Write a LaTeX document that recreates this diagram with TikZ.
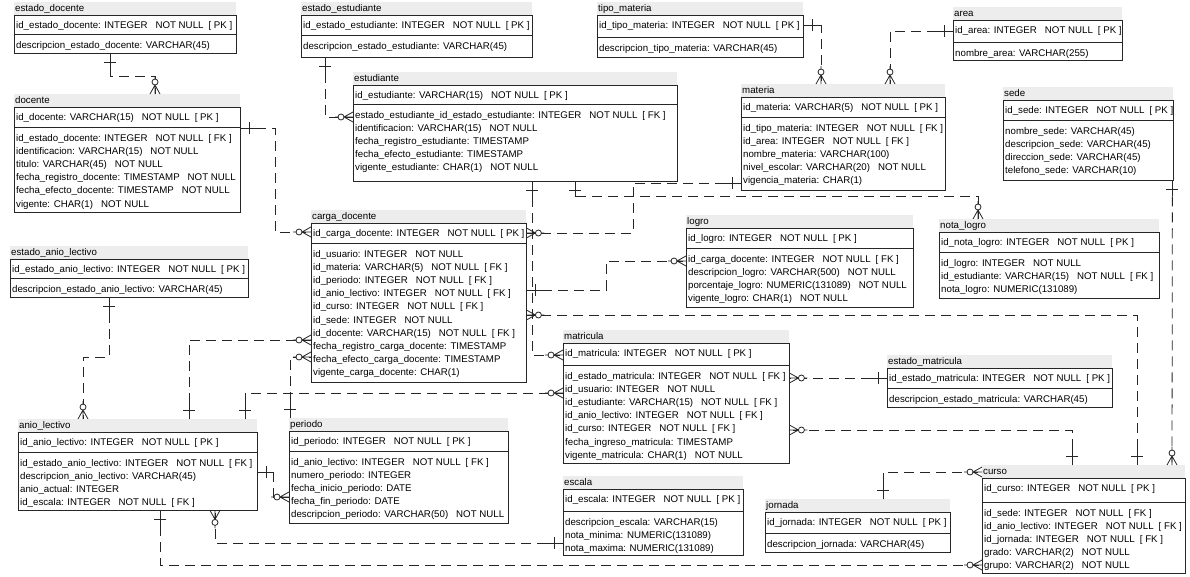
\documentclass[tikz,border=0pt]{standalone}
\usepackage{fontspec}
\setmainfont{Liberation Sans}
\usetikzlibrary{calc}
\newcommand{\gA}{\hspace{8pt}}
\newcommand{\gB}{\hspace{5pt}}
\tikzset{
 tbltext/.style={font=\fontsize{9.7}{12}\selectfont, inner sep=0pt, text=black},
 hdrfill/.style={fill=black!7},
 tblbox/.style={draw=none, inner sep=0pt},
 tblline/.style={draw=black!85, line width=0.8pt},
 rel/.style={draw=black!85, line width=0.8pt, dash pattern=on 10pt off 6pt},
 mk/.style={draw=black!85, line width=0.8pt, solid},
}
% name, L, T, R, D, B, title, pk, attributes
\newcommand{\ertbl}[9]{%
 \fill[hdrfill] (#2,#3-13) rectangle (#4,#3);
 \node[tbltext, anchor=base west] at (#2+1,#3-3.5) {#7};
 \node[tblbox, anchor=north west, minimum width={(#4-#2)*1pt}, minimum height={(#6-#3+13)*1pt}] (#1) at (#2,#3-13) {};
 \draw[tblline] (#2,#3) rectangle (#4,#6);
 \draw[tblline] (#2,#5) -- (#4,#5);
 \node[tbltext, anchor=base west] at (#2+2,#3+13.5) {#8};
 \foreach \rowtxt [count=\ri] in {#9} {\node[tbltext, anchor=base west] at (#2+2,#5+14+\ri*13.2-13.2) {\rowtxt};}
}
\newcommand{\mone}[2]{\draw[mk,shift={#1},rotate=#2] (0,0) -- (16,0) (9,-6) -- (9,6);}
\newcommand{\mzm}[2]{\draw[mk,shift={#1},rotate=#2] (0,0) -- (18,0) (9,0) -- (0,-5) (9,0) -- (0,5);
 \filldraw[mk,fill=white,shift={#1},rotate=#2] (12,0) circle[radius=3pt];}
\begin{document}
\begin{tikzpicture}[x=1pt,y=-1pt]
\useasboundingbox[fill=white] (0,0) rectangle (1190,576);

\ertbl{estadodocente}{14}{15}{236}{34}{53}{estado\_docente}{id\_estado\_docente: INTEGER\gA NOT NULL\gB [ PK ]}{descripcion\_estado\_docente: VARCHAR(45)}
\ertbl{docente}{14}{107}{240}{127}{212}{docente}{id\_docente: VARCHAR(15)\gA NOT NULL\gB [ PK ]}{id\_estado\_docente: INTEGER\gA NOT NULL\gB [ FK ], identificacion: VARCHAR(15)\gA NOT NULL, titulo: VARCHAR(45)\gA NOT NULL, fecha\_registro\_docente: TIMESTAMP\gA NOT NULL, fecha\_efecto\_docente: TIMESTAMP\gA NOT NULL, vigente: CHAR(1)\gA NOT NULL}
\ertbl{estadoestudiante}{301}{15}{532}{35}{57}{estado\_estudiante}{id\_estado\_estudiante: INTEGER\gA NOT NULL\gB [ PK ]}{descripcion\_estado\_estudiante: VARCHAR(45)}
\ertbl{estudiante}{353}{85}{677}{104}{181}{estudiante}{id\_estudiante: VARCHAR(15)\gA NOT NULL\gB [ PK ]}{estado\_estudiante\_id\_estado\_estudiante: INTEGER\gA NOT NULL\gB [ FK ], identificacion: VARCHAR(15)\gA NOT NULL, fecha\_registro\_estudiante: TIMESTAMP, fecha\_efecto\_estudiante: TIMESTAMP, vigente\_estudiante: CHAR(1)\gA NOT NULL}
\ertbl{tipomateria}{597}{15}{803}{37}{57}{tipo\_materia}{id\_tipo\_materia: INTEGER\gA NOT NULL\gB [ PK ]}{descripcion\_tipo\_materia: VARCHAR(45)}
\ertbl{materia}{741}{97}{945}{117}{190}{materia}{id\_materia: VARCHAR(5)\gA NOT NULL\gB [ PK ]}{id\_tipo\_materia: INTEGER\gA NOT NULL\gB [ FK ], id\_area: INTEGER\gA NOT NULL\gB [ FK ], nombre\_materia: VARCHAR(100), nivel\_escolar: VARCHAR(20)\gA NOT NULL, vigencia\_materia: CHAR(1)}
\ertbl{area}{953}{20}{1122}{42}{60}{area}{id\_area: INTEGER\gA NOT NULL\gB [ PK ]}{nombre\_area: VARCHAR(255)}
\ertbl{sede}{1003}{100}{1173}{120}{180}{sede}{id\_sede: INTEGER\gA NOT NULL\gB [ PK ]}{nombre\_sede: VARCHAR(45), descripcion\_sede: VARCHAR(45), direccion\_sede: VARCHAR(45), telefono\_sede: VARCHAR(10)}
\ertbl{estadoanio}{10}{259}{248}{278}{297}{estado\_anio\_lectivo}{id\_estado\_anio\_lectivo: INTEGER\gA NOT NULL\gB [ PK ]}{descripcion\_estado\_anio\_lectivo: VARCHAR(45)}
\ertbl{cargadocente}{311}{223}{526}{243}{382}{carga\_docente}{id\_carga\_docente: INTEGER\gA NOT NULL\gB [ PK ]}{id\_usuario: INTEGER\gA NOT NULL, id\_materia: VARCHAR(5)\gA NOT NULL\gB [ FK ], id\_periodo: INTEGER\gA NOT NULL\gB [ FK ], id\_anio\_lectivo: INTEGER\gA NOT NULL\gB [ FK ], id\_curso: INTEGER\gA NOT NULL\gB [ FK ], id\_sede: INTEGER\gA NOT NULL, id\_docente: VARCHAR(15)\gA NOT NULL\gB [ FK ], fecha\_registro\_carga\_docente: TIMESTAMP, fecha\_efecto\_carga\_docente: TIMESTAMP, vigente\_carga\_docente: CHAR(1)}
\ertbl{logro}{686}{228}{913}{248}{307}{logro}{id\_logro: INTEGER\gA NOT NULL\gB [ PK ]}{id\_carga\_docente: INTEGER\gA NOT NULL\gB [ FK ], descripcion\_logro: VARCHAR(500)\gA NOT NULL, porcentaje\_logro: NUMERIC(131089)\gA NOT NULL, vigente\_logro: CHAR(1)\gA NOT NULL}
\ertbl{notalogro}{939}{232}{1159}{252}{298}{nota\_logro}{id\_nota\_logro: INTEGER\gA NOT NULL\gB [ PK ]}{id\_logro: INTEGER\gA NOT NULL, id\_estudiante: VARCHAR(15)\gA NOT NULL\gB [ FK ], nota\_logro: NUMERIC(131089)}
\ertbl{estadomatricula}{887}{368}{1112}{388}{407}{estado\_matricula}{id\_estado\_matricula: INTEGER\gA NOT NULL\gB [ PK ]}{descripcion\_estado\_matricula: VARCHAR(45)}
\ertbl{matricula}{563}{343}{789}{365}{463}{matricula}{id\_matricula: INTEGER\gA NOT NULL\gB [ PK ]}{id\_estado\_matricula: INTEGER\gA NOT NULL\gB [ FK ], id\_usuario: INTEGER\gA NOT NULL, id\_estudiante: VARCHAR(15)\gA NOT NULL\gB [ FK ], id\_anio\_lectivo: INTEGER\gA NOT NULL\gB [ FK ], id\_curso: INTEGER\gA NOT NULL\gB [ FK ], fecha\_ingreso\_matricula: TIMESTAMP, vigente\_matricula: CHAR(1)\gA NOT NULL}
\ertbl{aniolectivo}{18}{432}{257}{452}{510}{anio\_lectivo}{id\_anio\_lectivo: INTEGER\gA NOT NULL\gB [ PK ]}{id\_estado\_anio\_lectivo: INTEGER\gA NOT NULL\gB [ FK ], descripcion\_anio\_lectivo: VARCHAR(45), anio\_actual: INTEGER, id\_escala: INTEGER\gA NOT NULL\gB [ FK ]}
\ertbl{periodo}{289}{431}{508}{451}{523}{periodo}{id\_periodo: INTEGER\gA NOT NULL\gB [ PK ]}{id\_anio\_lectivo: INTEGER\gA NOT NULL\gB [ FK ], numero\_periodo: INTEGER, fecha\_inicio\_periodo: DATE, fecha\_fin\_periodo: DATE, descripcion\_periodo: VARCHAR(50)\gA NOT NULL}
\ertbl{escala}{563}{489}{743}{511}{555}{escala}{id\_escala: INTEGER\gA NOT NULL\gB [ PK ]}{descripcion\_escala: VARCHAR(15), nota\_minima: NUMERIC(131089), nota\_maxima: NUMERIC(131089)}
\ertbl{jornada}{765}{512}{950}{533}{552}{jornada}{id\_jornada: INTEGER\gA NOT NULL\gB [ PK ]}{descripcion\_jornada: VARCHAR(45)}
\ertbl{curso}{982}{478}{1185}{502}{573}{curso}{id\_curso: INTEGER\gA NOT NULL\gB [ PK ]}{id\_sede: INTEGER\gA NOT NULL\gB [ FK ], id\_anio\_lectivo: INTEGER\gA NOT NULL\gB [ FK ], id\_jornada: INTEGER\gA NOT NULL\gB [ FK ], grado: VARCHAR(2)\gA NOT NULL, grupo: VARCHAR(2)\gA NOT NULL}

% connector end points
\coordinate (As) at ($(estadodocente.south west)+(96,0)$);
\coordinate (Ae) at ($(docente.north west)+(141,0)$);
\coordinate (Bs) at ($(docente.north east)+(0,34)$);
\coordinate (Be) at ($(cargadocente.north west)+(0,22)$);
\coordinate (Cs) at ($(estadoestudiante.south west)+(24,0)$);
\coordinate (Ce) at ($(estudiante.north west)+(0,45)$);
\coordinate (Ds) at ($(tipomateria.north east)+(0,23)$);
\coordinate (De) at ($(materia.north west)+(80,0)$);
\coordinate (Es) at ($(area.north west)+(0,24)$);
\coordinate (Ee) at ($(materia.north west)+(149,0)$);
\coordinate (Fs) at ($(sede.south east)+(-1,0)$);
\coordinate (Fe) at ($(curso.north west)+(190,0)$);
\coordinate (Gs) at ($(materia.north west)+(0,99)$);
\coordinate (Ge) at ($(cargadocente.north east)+(0,23)$);
\coordinate (Hs) at ($(estudiante.south west)+(222,0)$);
\coordinate (He) at ($(notalogro.north west)+(39,0)$);
\coordinate (Is) at ($(estudiante.south west)+(179,0)$);
\coordinate (Ie) at ($(matricula.north west)+(0,25)$);
\coordinate (Js) at ($(cargadocente.north east)+(0,80)$);
\coordinate (Je) at ($(logro.north west)+(0,46)$);
\coordinate (Ks) at ($(curso.north west)+(155,0)$);
\coordinate (Ke) at ($(cargadocente.north east)+(0,105)$);
\coordinate (Ls) at ($(aniolectivo.north west)+(171,0)$);
\coordinate (Le) at ($(cargadocente.north west)+(0,130)$);
\coordinate (Ms) at ($(periodo.north west)+(1,0)$);
\coordinate (Me) at ($(cargadocente.north west)+(0,147)$);
\coordinate (Ns) at ($(aniolectivo.north west)+(227,0)$);
\coordinate (Ne) at ($(matricula.north west)+(0,63)$);
\coordinate (Os) at ($(estadoanio.south west)+(99,0)$);
\coordinate (Oe) at ($(aniolectivo.north west)+(65,0)$);
\coordinate (Ps) at ($(aniolectivo.north east)+(0,53)$);
\coordinate (Pe) at ($(periodo.north west)+(0,79)$);
\coordinate (Qs) at ($(aniolectivo.south west)+(142,0)$);
\coordinate (Qe) at ($(curso.north west)+(0,100)$);
\coordinate (Rs) at ($(escala.north west)+(0,67)$);
\coordinate (Re) at ($(aniolectivo.south west)+(197,0)$);
\coordinate (Ss) at ($(estadomatricula.north west)+(0,23)$);
\coordinate (Se) at ($(matricula.north east)+(0,48)$);
\coordinate (Ts) at ($(curso.north west)+(90,0)$);
\coordinate (Te) at ($(matricula.north east)+(0,100)$);
\coordinate (Us) at ($(jornada.north west)+(118,0)$);
\coordinate (Ue) at ($(curso.north west)+(0,7)$);

% connectors
\draw[rel] (As) -- ++(0,23) -| (Ae);
\draw[rel] (Bs) -- ++(35,0) |- (Be);
\draw[rel] (Cs) |- (Ce);
\draw[rel] (Ds) -| (De);
\draw[rel] (Es) -| (Ee);
\draw[rel] (Fs) -- (Fe);
\draw[rel] (Gs) -- ++(-108,0) |- (Ge);
\draw[rel] (Hs) -- ++(0,15) -| (He);
\draw[rel] (Is) |- (Ie);
\draw[rel] (Js) -- ++(80,0) |- (Je);
\draw[rel] (Ks) |- (Ke);
\draw[rel] (Ls) |- (Le);
\draw[rel] (Ms) |- (Me);
\draw[rel] (Ns) |- (Ne);
\draw[rel] (Os) -- ++(0,60) -| (Oe);
\draw[rel] (Ps) -- ++(16,0) |- (Pe);
\draw[rel] (Qs) |- (Qe);
\draw[rel] (Rs) -| (Re);
\draw[rel] (Ss) -- (Se);
\draw[rel] (Ts) |- (Te);
\draw[rel] (Us) |- (Ue);

% end marks
\mone{(As)}{270} \mzm{(Ae)}{90}
\mone{(Bs)}{0}   \mzm{(Be)}{180}
\mone{(Cs)}{270} \mzm{(Ce)}{180}
\mone{(Ds)}{0}   \mzm{(De)}{90}
\mone{(Es)}{180} \mzm{(Ee)}{90}
\mone{(Fs)}{270} \mzm{(Fe)}{90}
\mone{(Gs)}{180} \mzm{(Ge)}{0}
\mone{(Hs)}{270} \mzm{(He)}{90}
\mone{(Is)}{270} \mzm{(Ie)}{180}
\mone{(Js)}{0}   \mzm{(Je)}{180}
\mone{(Ks)}{90}  \mzm{(Ke)}{0}
\mone{(Ls)}{90}  \mzm{(Le)}{180}
\mone{(Ms)}{90}  \mzm{(Me)}{180}
\mone{(Ns)}{90}  \mzm{(Ne)}{180}
\mone{(Os)}{270} \mzm{(Oe)}{90}
\mone{(Ps)}{0}   \mzm{(Pe)}{180}
\mone{(Qs)}{270} \mzm{(Qe)}{180}
\mone{(Rs)}{180} \mzm{(Re)}{270}
\mone{(Ss)}{180} \mzm{(Se)}{0}
\mone{(Ts)}{90}  \mzm{(Te)}{0}
\mone{(Us)}{90}  \mzm{(Ue)}{180}
\end{tikzpicture}
\end{document}
